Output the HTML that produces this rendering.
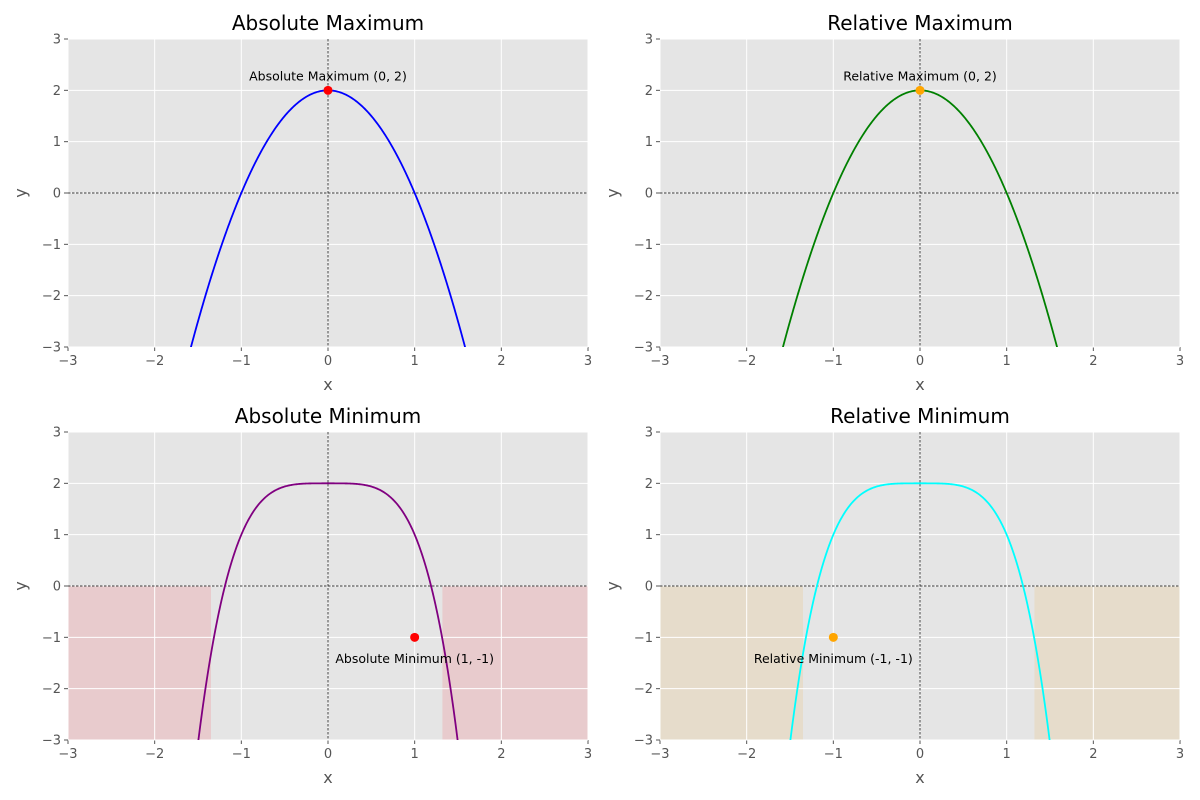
<!DOCTYPE html>
<html><head><meta charset="utf-8"><style>
html,body{margin:0;padding:0;background:#fff;overflow:hidden;width:1200px;height:800px;}
svg{display:block;}
svg text{font-family:"DejaVu Sans","Liberation Sans",sans-serif;}
</style></head><body>
<svg id="c" width="1200" height="800" xmlns="http://www.w3.org/2000/svg"></svg>
<script>
const xTicks=[-3,-2,-1,0,1,2,3];
const yTicks=[-3,-2,-1,0,1,2,3];
const panelTitles=["Absolute Maximum","Relative Maximum","Absolute Minimum","Relative Minimum"];
const curveColors=["blue","green","purple","cyan"];
const curveKinds=["quad","quad","quart","quart"];
const pointX=[0,0,1,-1];
const pointY=[2,2,-1,-1];
const pointColors=["red","orange","red","orange"];
const annotTexts=["Absolute Maximum (0, 2)","Relative Maximum (0, 2)","Absolute Minimum (1, -1)","Relative Minimum (-1, -1)"];
const annotDY=[0.27,0.27,-0.42,-0.42];
const shadeRanges=[[],[],[[-3,-1.35],[1.32,3]],[[-3,-1.35],[1.32,3]]];
const shadeColors=["","","#e8cbcd","#e6dccb"];
const panels=[{x0:68,y0:39},{x0:660,y0:39},{x0:68,y0:432},{x0:660,y0:432}];
const W=520,H=308;
const svg=document.getElementById('c');
const NS="http://www.w3.org/2000/svg";
function mk(tag,attrs,parent){const e=document.createElementNS(NS,tag);for(const k in attrs)e.setAttribute(k,attrs[k]);(parent||svg).appendChild(e);return e;}
function f(kind,x){return kind==="quad"?2-2*x*x:2-Math.pow(x,4);}
panels.forEach((p,i)=>{
  const sx=v=>p.x0+(v+3)/6*W, sy=v=>p.y0+(3-v)/6*H;
  const g=mk('g',{});
  
  
  const cid='clip'+i;
  const cp=mk('clipPath',{id:cid},g);mk('rect',{x:p.x0,y:p.y0,width:W,height:H},cp);
  const bg=mk('rect',{x:p.x0,y:p.y0,width:W,height:H,fill:'#e5e5e5'},g);
  
  shadeRanges[i].forEach(r=>{const s=mk('rect',{x:sx(r[0]),y:sy(0),width:sx(r[1])-sx(r[0]),height:sy(-3)-sy(0),fill:shadeColors[i]},g);
    });
  xTicks.forEach(t=>{mk('line',{x1:sx(t),x2:sx(t),y1:p.y0,y2:p.y0+H,stroke:'#fff','stroke-width':1},g);
    mk('line',{x1:sx(t),x2:sx(t),y1:p.y0+H,y2:p.y0+H+4,stroke:'#555'},g);
    const tl=mk('text',{x:sx(t),y:p.y0+H+18,'text-anchor':'middle','font-size':13,fill:'#555'},g);tl.textContent=t<0?'\u2212'+(-t):t;
    });
  yTicks.forEach(t=>{mk('line',{x1:p.x0,x2:p.x0+W,y1:sy(t),y2:sy(t),stroke:'#fff','stroke-width':1},g);
    mk('line',{x1:p.x0-4,x2:p.x0,y1:sy(t),y2:sy(t),stroke:'#555'},g);
    const tl=mk('text',{x:p.x0-7,y:sy(t)+4.5,'text-anchor':'end','font-size':13,fill:'#555'},g);tl.textContent=t<0?'\u2212'+(-t):t;
    });
  mk('line',{x1:sx(0),x2:sx(0),y1:p.y0,y2:p.y0+H,stroke:'#000','stroke-width':0.7,'stroke-dasharray':'2.5,1.5'},g);
  mk('line',{x1:p.x0,x2:p.x0+W,y1:sy(0),y2:sy(0),stroke:'#000','stroke-width':0.7,'stroke-dasharray':'2.5,1.5'},g);
  let d='';for(let k=0;k<=600;k++){const x=-3+6*k/600;d+=(k?'L':'M')+sx(x).toFixed(2)+','+sy(f(curveKinds[i],x)).toFixed(2);}
  const c=mk('path',{d:d,fill:'none',stroke:curveColors[i],'stroke-width':1.8,'clip-path':'url(#'+cid+')'},g);
  
  const pt=mk('circle',{cx:sx(pointX[i]),cy:sy(pointY[i]),r:4.5,fill:pointColors[i]},g);
  
  const at=mk('text',{x:sx(pointX[i]),y:sy(pointY[i]+annotDY[i])+4,'text-anchor':'middle','font-size':12.5,fill:'#000'},g);at.textContent=annotTexts[i];
  
  const tt=mk('text',{x:p.x0+W/2,y:p.y0-9,'text-anchor':'middle','font-size':20,fill:'#000'},g);tt.textContent=panelTitles[i];
  
  const xl=mk('text',{x:p.x0+W/2,y:p.y0+H+43,'text-anchor':'middle','font-size':16,fill:'#555'},g);xl.textContent='x';
  
  const yl=mk('text',{x:0,y:0,'text-anchor':'middle','font-size':16,fill:'#555',transform:'translate('+(p.x0-42)+','+(p.y0+H/2)+') rotate(-90)'},g);yl.textContent='y';
  
});
</script>
</body></html>
